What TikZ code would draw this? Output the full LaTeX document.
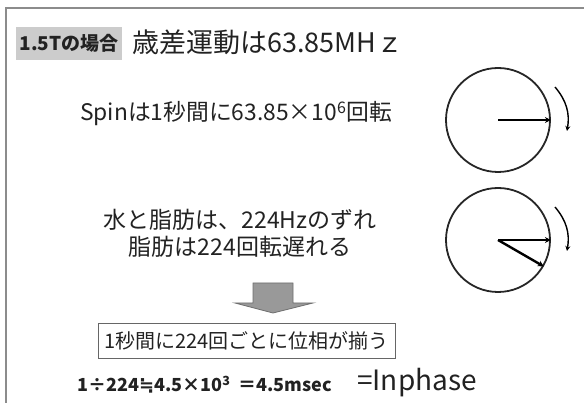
\documentclass[tikz,border=0pt]{standalone}
\usepackage{fontspec}
\setmainfont{Noto Sans CJK JP}
\newfontfamily\cjk{Noto Sans CJK JP}
\newfontfamily\dejavu{DejaVu Sans}
\usetikzlibrary{arrows.meta}
\definecolor{framegray}{HTML}{8C8C8C}
\definecolor{tagfill}{HTML}{CCCCCC}
\definecolor{arrowfill}{HTML}{999999}
\definecolor{arrowedge}{HTML}{6E6E6E}
\definecolor{txt}{HTML}{222222}
\tikzset{
  lbl/.style={inner sep=0pt, text=txt, font=\cjk},
  wheel/.style={circle, draw=black!85, line width=1.8pt, minimum size=104pt, inner sep=0pt},
  vec/.style={line width=2.4pt, -{Stealth[length=6pt,width=6pt]}},
  turn/.style={line width=1.4pt, -{Stealth[length=5pt,width=5pt]}},
}
\begin{document}
\begin{tikzpicture}[x=1pt,y=-1pt]
\useasboundingbox (0,0) rectangle (584,403);
% frame
\draw[framegray, line width=1.6pt] (6,403) -- (6,8) -- (584,8);
% title
\node[fill=tagfill, minimum width=106pt, minimum height=33pt, inner sep=0pt,
      font=\cjk\bfseries\fontsize{19}{19}\selectfont, text=txt] (tag) at (69,43.5) {1.5Tの場合};
\node[lbl, anchor=west, font=\cjk\fontsize{27}{27}\selectfont] (title) at (132,42) {歳差運動は63.85MHｚ};
% spin line
\node[lbl, anchor=west, font=\cjk\fontsize{22.8}{22.8}\selectfont] (spin) at (80,114) {Spinは1秒間に63.85×10\textsuperscript{6}回転};
\node[wheel] (c1) at (498,120) {};
\draw[vec] (c1.center) -- (c1.east);
\coordinate (t1a) at (555,87);
\coordinate (t1b) at (567,131);
\draw[turn] (t1a) to[bend left=25] (t1b);
% water / fat
\node[lbl, font=\cjk\fontsize{23}{23}\selectfont] (w1) at (240,220) {水と脂肪は、224Hzのずれ};
\node[lbl, font=\cjk\fontsize{23}{23}\selectfont] (w2) at (240,247) {脂肪は224回転遅れる};
\node[wheel] (c2) at (498,240) {};
\draw[vec] (c2.center) -- (c2.east);
\draw[vec] (c2.center) -- (c2.-30);
\coordinate (t2a) at (555,207);
\coordinate (t2b) at (567,251);
\draw[turn] (t2a) to[bend left=25] (t2b);
% block arrow
\draw[fill=arrowfill, draw=arrowedge, line width=0.8pt]
  (253,283) -- (293,283) -- (293,303) -- (313,303) -- (273,313) -- (235,303) -- (253,303) -- cycle;
% result box
\node[draw=black!60, line width=0.9pt, minimum width=297pt, minimum height=35pt, inner sep=0pt,
      lbl, font=\cjk\fontsize{20}{20}\selectfont] (res) at (246.5,341) {1秒間に224回ごとに位相が揃う};
% formula
\node[lbl, anchor=west, font=\cjk\bfseries\fontsize{18}{18}\selectfont] (f1) at (77,385) {1÷224{\dejavu\bfseries ≒}4.5×10\textsuperscript{3}\ \ ＝4.5msec};
\node[lbl, anchor=west, font=\cjk\fontsize{28}{28}\selectfont] (f2) at (357,383) {=Inphase};
\end{tikzpicture}
\end{document}
